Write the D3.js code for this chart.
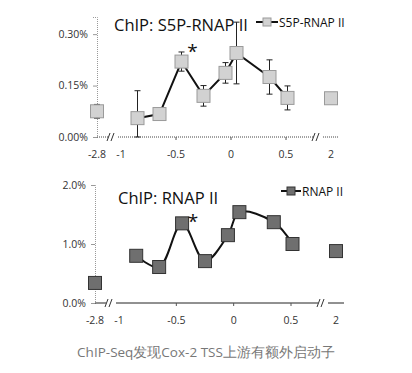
<!DOCTYPE html>
<html>
<head>
<meta charset="utf-8">
<script src="https://cdn.jsdelivr.net/npm/d3@7"></script>
<style>
  body { margin: 0; background: #fff; }
  text { font-family: "Open Sans", "Noto Sans", sans-serif; }
</style>
</head>
<body>
<div class="canvas"></div>
<script>
// positions relative to TSS (kb)
const xPos = [-0.85, -0.65, -0.45, -0.25, -0.05, 0.05, 0.35, 0.55];
const xTicks = [-2.8, -1, -0.5, 0, 0.5, 2];

// S5P-RNAP II (% input)
const s5p = [0.055, 0.067, 0.22, 0.12, 0.187, 0.245, 0.175, 0.114];
const s5pErr = [0.08, 0.01, 0.028, 0.03, 0.03, 0.09, 0.05, 0.035];
const s5pFar = [{x: -2.8, v: 0.075, e: 0.02}, {x: 2, v: 0.113, e: 0}];

// RNAP II (% input)
const rnap = [0.80, 0.61, 1.35, 0.71, 1.15, 1.54, 1.37, 1.0];
const rnapFar = [{x: -2.8, v: 0.34, e: 0.07}, {x: 2, v: 0.88, e: 0}];

const svg = d3.select('.canvas')
  .append('svg')
    .attr('width', 412)
    .attr('height', 373);

function panel(opt) {
  const g = svg.append('g');
  const x = d3.scaleLinear()
    .domain([-2.8, -1, 0.5, 2])
    .range(opt.xRange);
  const y = d3.scaleLinear()
    .domain(opt.yDomain)
    .range(opt.yRange);

  // y axis
  const yAxis = d3.axisLeft(y)
    .tickValues(opt.yTicks)
    .tickSize(4)
    .tickFormat(opt.fmt);
  const yg = g.append('g')
    .attr('transform', `translate(${opt.xRange[0]},0)`)
    .call(yAxis);
  yg.select('.domain').attr('stroke', '#999').attr('stroke-dasharray', '1,1');
  yg.selectAll('.tick line').attr('stroke', '#999');
  yg.selectAll('text').attr('fill', '#333').style('font-size', '10.5px').attr('x', -9);

  // x axis, broken in two places
  const y0 = y(0);
  const axisStyle = sel => sel.attr('stroke', opt.axisColor).attr('stroke-dasharray', opt.axisDash);
  const b1 = x(-2.8) + 11, b2 = x(-1) - 3, b3 = x(2) - 18, b4 = x(2) - 12;
  g.append('line').attr('x1', x(-2.8)).attr('x2', b1).attr('y1', y0).attr('y2', y0).call(axisStyle);
  g.append('line').attr('x1', b2).attr('x2', b3).attr('y1', y0).attr('y2', y0).call(axisStyle);
  g.append('line').attr('x1', b4 + 4).attr('x2', x(2) + 8).attr('y1', y0).attr('y2', y0).call(axisStyle);
  [[b1, b2], [b3, b4 + 4]].forEach(([a, b]) => {
    [0, 4].forEach(off => {
      g.append('line')
        .attr('x1', a + off - 1).attr('x2', a + off + 2)
        .attr('y1', y0 + 4).attr('y2', y0 - 4)
        .attr('stroke', '#333').attr('stroke-width', 1);
    });
  });
  g.selectAll('.xtick')
    .data([-0.5, 0, 0.5])
    .enter().append('line')
      .attr('x1', d => x(d)).attr('x2', d => x(d))
      .attr('y1', y0).attr('y2', y0 + 3)
      .attr('stroke', '#555');
  g.selectAll('.xlabel')
    .data(xTicks)
    .enter().append('text')
      .attr('x', d => x(d))
      .attr('y', y0 + 21)
      .attr('text-anchor', 'middle')
      .style('font-size', '10.5px')
      .attr('fill', '#333')
      .text(d => d);

  // error bars
  const errs = xPos.map((d, i) => ({x: d, v: opt.values[i], e: opt.errs ? opt.errs[i] : 0}))
    .concat(opt.far).filter(d => d.e > 0);
  errs.forEach(d => {
    const top = y(d.v + d.e), bot = y(Math.max(0, d.v - d.e));
    g.append('line').attr('x1', x(d.x)).attr('x2', x(d.x))
      .attr('y1', top).attr('y2', bot).attr('stroke', '#222');
    [top, bot].forEach(yy => {
      g.append('line').attr('x1', x(d.x) - 3).attr('x2', x(d.x) + 3)
        .attr('y1', yy).attr('y2', yy).attr('stroke', '#222');
    });
  });

  // line
  const line = d3.line()
    .x(d => x(d[0]))
    .y(d => y(d[1]))
    .curve(opt.curve);
  g.append('path')
    .datum(xPos.map((d, i) => [d, opt.values[i]]))
    .attr('d', line)
    .attr('fill', 'none')
    .attr('stroke', '#111')
    .attr('stroke-width', 2);

  // markers
  const pts = xPos.map((d, i) => ({x: d, v: opt.values[i]})).concat(opt.far);
  g.selectAll('.mark')
    .data(pts)
    .enter().append('rect')
      .attr('x', d => x(d.x) - 6.5)
      .attr('y', d => y(d.v) - 6.5)
      .attr('width', 13)
      .attr('height', 13)
      .attr('fill', opt.fill)
      .attr('stroke', opt.stroke)
      .attr('stroke-width', 1);

  // asterisk
  g.append('text')
    .attr('x', x(-0.45) + 11)
    .attr('y', opt.starY)
    .attr('text-anchor', 'middle')
    .style('font-size', '19px')
    .attr('fill', '#111')
    .text('*');

  // title
  g.append('text')
    .attr('x', opt.titleX)
    .attr('y', opt.titleY)
    .style('font-size', '16.5px')
    .attr('fill', '#111')
    .text(opt.title);

  // legend
  const lg = g.append('g').attr('transform', `translate(${opt.legX},${opt.legY})`);
  lg.append('line').attr('x1', 0).attr('x2', opt.legLen).attr('y1', 0).attr('y2', 0)
    .attr('stroke', '#111').attr('stroke-width', 2);
  lg.append('rect').attr('x', opt.legLen / 2 - 4).attr('y', -4).attr('width', 8).attr('height', 8)
    .attr('fill', opt.fill).attr('stroke', opt.stroke);
  lg.append('text').attr('x', opt.legLen + 1).attr('y', 5)
    .style('font-size', '12px').attr('fill', '#111').text(opt.name);
}

panel({
  values: s5p, errs: s5pErr, far: s5pFar,
  xRange: [97, 121, 286, 331],
  yDomain: [0, 0.35], yRange: [137, 17],
  yTicks: [0, 0.15, 0.30],
  fmt: d => d.toFixed(2) + '%',
  axisColor: '#444', axisDash: '1,1',
  curve: d3.curveLinear,
  fill: '#d2d2d2', stroke: '#9a9a9a',
  starY: 58, title: 'ChIP: S5P-RNAP II', titleX: 114, titleY: 31,
  legX: 256, legY: 22, legLen: 22, name: 'S5P-RNAP II'
});

panel({
  values: rnap, errs: null, far: rnapFar,
  xRange: [95, 119, 291, 336],
  yDomain: [0, 2], yRange: [303, 185],
  yTicks: [0, 1, 2],
  fmt: d => d.toFixed(1) + '%',
  axisColor: '#222', axisDash: null,
  curve: d3.curveCatmullRom,
  fill: '#6f6f6f', stroke: '#333',
  starY: 228, title: 'ChIP: RNAP II', titleX: 118, titleY: 204,
  legX: 281, legY: 191, legLen: 20, name: 'RNAP II'
});

svg.append('text')
  .attr('x', 206)
  .attr('y', 357)
  .attr('text-anchor', 'middle')
  .style('font-size', '13.5px')
  .attr('fill', '#777')
  .text('ChIP-Seq发现Cox-2 TSS上游有额外启动子');
</script>
</body>
</html>
